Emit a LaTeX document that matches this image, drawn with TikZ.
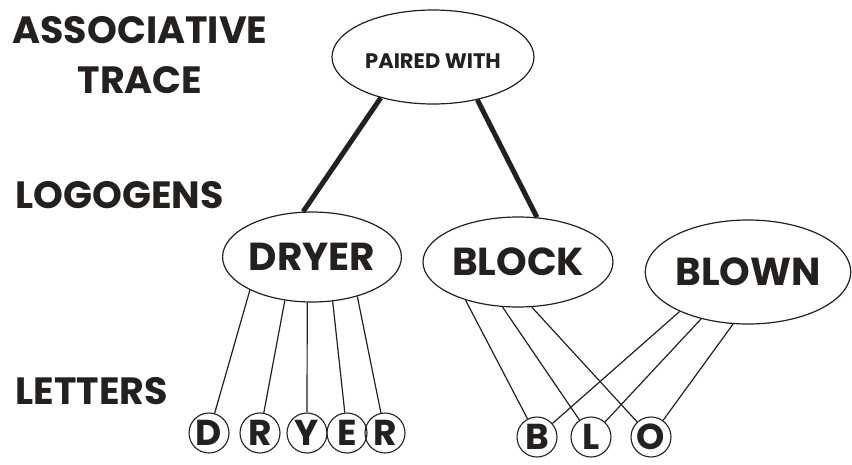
\documentclass[tikz,border=0pt]{standalone}
\usepackage{fontspec}
\setmainfont{Poppins}
\usetikzlibrary{shapes.geometric}
\definecolor{ink}{RGB}{35,32,30}

\begin{document}
\begin{tikzpicture}[x=1pt,y=-1pt,color=ink,
    word/.style={draw,ellipse,line width=1.2pt,inner sep=0pt,font=\fontsize{39}{39}\selectfont\bfseries},
    letter/.style={draw,circle,line width=1.1pt,inner sep=0pt,minimum size=40pt,font=\fontsize{36}{36}\selectfont\bfseries},
    level/.style={font=\fontsize{38}{50}\selectfont\bfseries},
    link/.style={line width=1.2pt},
    bond/.style={line width=5pt}]
  \useasboundingbox (0,0) rectangle (852,464);

  % level names down the left side
  \node[level,align=center] (assoc) at (140,55) {ASSOCIATIVE\\TRACE};
  \node[level,anchor=west] (logo) at (12,195) {LOGOGENS};
  \node[level,anchor=west] (lett) at (12,391) {LETTERS};

  % trace and logogens
  \node[word,minimum width=202,minimum height=94,font=\fontsize{21}{21}\selectfont\bfseries] (paired) at (433,57) {\raisebox{-4pt}[15pt][0pt]{PAIRED WITH}};
  \node[word,minimum width=170,minimum height=90] (dryer) at (312,257) {DRYER};
  \node[word,minimum width=190,minimum height=90] (block) at (518,262) {BLOCK};
  \node[word,minimum width=204,minimum height=104] (blown) at (748,272) {BLOWN};

  % letter units
  \foreach \ch/\x [count=\i] in {D/209,R/260,Y/307,E/347,R/385}
    \node[letter] (d\i) at (\x,433) {\ch};
  \foreach \ch/\x [count=\i] in {B/537,L/591,O/651}
    \node[letter] (b\i) at (\x,437) {\ch};

  \draw[bond] (paired.218) -- (dryer.101);
  \draw[bond] (paired.316) -- (block.67);

  \foreach \a [count=\i] in {208,238,264,295,319}
    \draw[link] (dryer.\a) -- (d\i);
  \foreach \a [count=\i] in {216,251,287}
    \draw[link] (block.\a) -- (b\i);
  \foreach \a [count=\i] in {210,225,254}
    \draw[link] (blown.\a) -- (b\i);
\end{tikzpicture}
\end{document}
